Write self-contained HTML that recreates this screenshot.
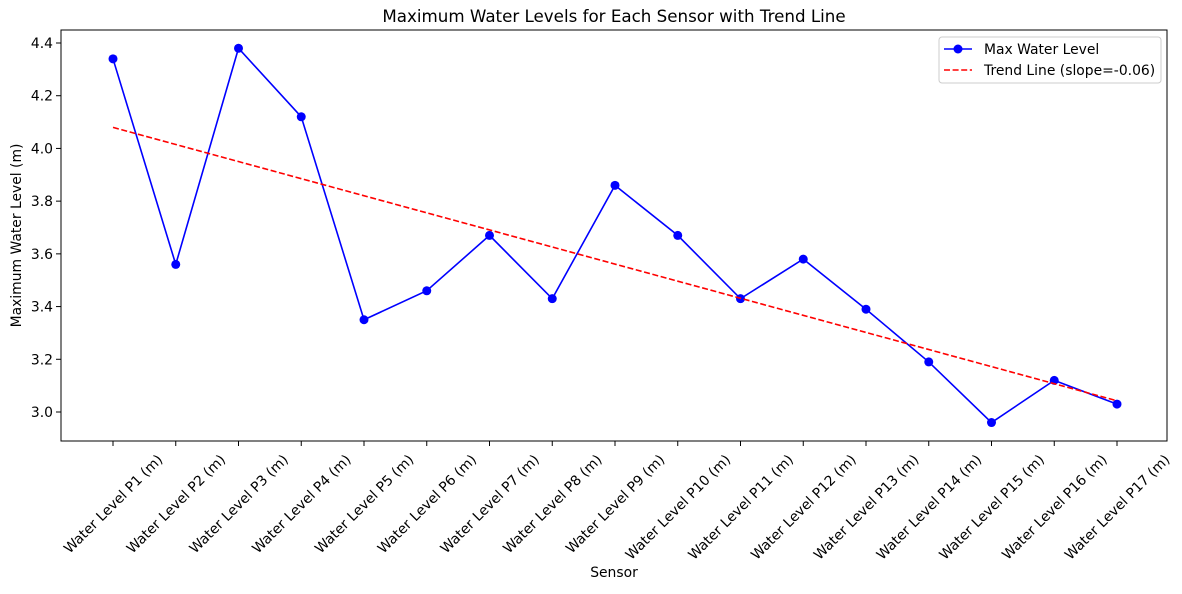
<!DOCTYPE html>
<html><head><meta charset="utf-8"><style>
body{margin:0;background:#fff;font-family:"DejaVu Sans",sans-serif}
svg text{font-family:"DejaVu Sans",sans-serif;fill:#000}
</style></head><body>
<svg id="c" width="1182" height="590" xmlns="http://www.w3.org/2000/svg"></svg>
<script>
const categories=["Water Level P1 (m)","Water Level P2 (m)","Water Level P3 (m)","Water Level P4 (m)","Water Level P5 (m)","Water Level P6 (m)","Water Level P7 (m)","Water Level P8 (m)","Water Level P9 (m)","Water Level P10 (m)","Water Level P11 (m)","Water Level P12 (m)","Water Level P13 (m)","Water Level P14 (m)","Water Level P15 (m)","Water Level P16 (m)","Water Level P17 (m)"];
const maxLevels=[4.34,3.56,4.38,4.12,3.35,3.46,3.67,3.43,3.86,3.67,3.43,3.58,3.39,3.19,2.96,3.12,3.03];
const yTicks=[3.0,3.2,3.4,3.6,3.8,4.0,4.2,4.4];
const svg=document.getElementById('c');const NS='http://www.w3.org/2000/svg';
function mk(t,a,p){const e=document.createElementNS(NS,t);for(const k in a)e.setAttribute(k,a[k]);(p||svg).appendChild(e);return e;}
const L=61,R=1167,T=30,B=441,FS=13.9;
const x=i=>113+i*(1117-113)/16;
const y=v=>412-(v-3.0)*(412-43)/1.4;
const n=maxLevels.length;let mx=0,my=0;maxLevels.forEach((v,i)=>{mx+=i;my+=v});mx/=n;my/=n;
let sxy=0,sxx=0;maxLevels.forEach((v,i)=>{sxy+=(i-mx)*(v-my);sxx+=(i-mx)*(i-mx)});
const slope=sxy/sxx,icpt=my-slope*mx;
let e;
e=mk('text',{x:614,y:22,'text-anchor':'middle','font-size':16.7});e.textContent='Maximum Water Levels for Each Sensor with Trend Line';

yTicks.forEach(v=>{mk('line',{x1:L-5,x2:L,y1:y(v),y2:y(v),stroke:'#000'});
 const t=mk('text',{x:L-8,y:y(v)+5,'text-anchor':'end','font-size':FS});t.textContent=v.toFixed(1);
 });
categories.forEach((c,i)=>{mk('line',{x1:x(i),x2:x(i),y1:B,y2:B+5,stroke:'#000'});
 const t=mk('text',{x:0,y:5,'text-anchor':'middle','font-size':FS});t.textContent=c;
 
 const len=t.getComputedTextLength();const h=(len+FS)*0.7071;
 t.setAttribute('transform',`translate(${x(i)},${B+11+h/2}) rotate(-45)`);});
e=mk('text',{x:614,y:577,'text-anchor':'middle','font-size':FS});e.textContent='Sensor';

e=mk('text',{x:0,y:0,'text-anchor':'middle','font-size':FS,transform:`translate(21,${(T+B)/2}) rotate(-90)`});e.textContent='Maximum Water Level (m)';

e=mk('polyline',{points:maxLevels.map((v,i)=>x(i)+','+y(v)).join(' '),fill:'none',stroke:'#0000ff','stroke-width':1.6});

maxLevels.forEach((v,i)=>{const p=mk('circle',{cx:x(i),cy:y(v),r:4.5,fill:'#0000ff'});
 });
e=mk('line',{x1:x(0),y1:y(icpt),x2:x(n-1),y2:y(icpt+slope*(n-1)),stroke:'#ff0000','stroke-width':1.6,'stroke-dasharray':'6,2.6'});

e=mk('rect',{x:L,y:T,width:R-L,height:B-T,fill:'none',stroke:'#000','stroke-width':1});

const g=mk('g',{});
mk('rect',{x:939,y:37,width:222,height:46,rx:3,fill:'#fff',stroke:'#ccc'},g);
mk('line',{x1:944,x2:972,y1:49,y2:49,stroke:'#0000ff','stroke-width':1.6},g);
mk('circle',{cx:958,cy:49,r:4.5,fill:'#0000ff'},g);
e=mk('text',{x:984,y:54,'font-size':FS},g);e.textContent='Max Water Level';

mk('line',{x1:944,x2:972,y1:70,y2:70,stroke:'#ff0000','stroke-width':1.6,'stroke-dasharray':'6,2.6'},g);
e=mk('text',{x:984,y:75,'font-size':FS},g);e.textContent='Trend Line (slope='+slope.toFixed(2)+')';

</script>
</body></html>
